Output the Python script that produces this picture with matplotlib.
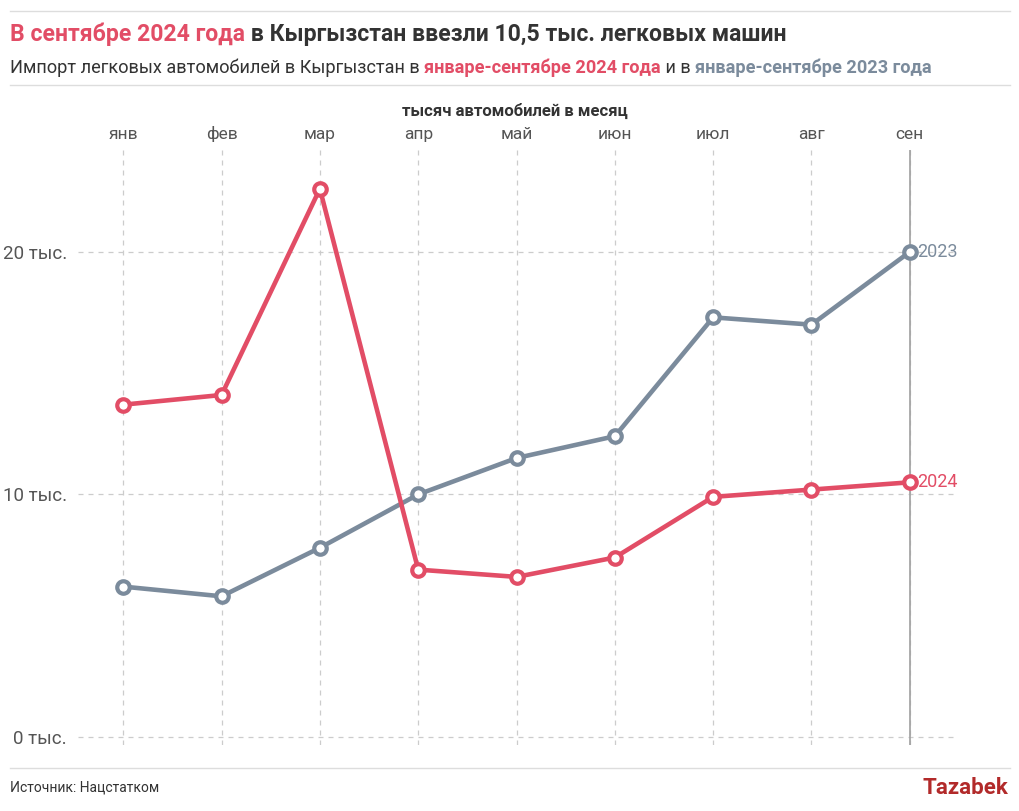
import matplotlib
matplotlib.use('Agg')
import matplotlib.pyplot as plt

plt.rcParams['font.family'] = ['Roboto', 'DejaVu Sans']

# ===== данные =====
months = ['янв', 'фев', 'мар', 'апр', 'май', 'июн', 'июл', 'авг', 'сен']
imports_2024 = [13.7, 14.1, 22.6, 6.9, 6.6, 7.4, 9.9, 10.2, 10.5]
imports_2023 = [6.2, 5.8, 7.8, 10.0, 11.5, 12.4, 17.3, 17.0, 20.0]
y_ticks = [0, 10, 20]
y_tick_labels = ['0 тыс.', '10 тыс.', '20 тыс.']

RED = '#e24d66'
GRAY = '#7b8b9c'
DARK = '#333333'

fig = plt.figure(figsize=(10.2, 8.11), dpi=100)
ax = fig.add_axes([78 / 1020, 1 - 745 / 811, (958 - 78) / 1020, (745 - 150) / 811])

x = list(range(len(months)))
ax.plot(x, imports_2023, color=GRAY, lw=3.3, marker='o', ms=9, mfc='white', mec=GRAY, mew=3, zorder=3)
ax.plot(x, imports_2024, color=RED, lw=3.3, marker='o', ms=9, mfc='white', mec=RED, mew=3, zorder=4)

ax.set_xlim(-0.46, 8.49)
ax.set_ylim(-0.33, 24.2)
ax.set_xticks(x)
ax.set_xticklabels(months)
ax.xaxis.tick_top()
ax.set_yticks(y_ticks)
ax.set_yticklabels(y_tick_labels)
ax.tick_params(length=0, labelsize=12.5, colors='#555555')
ax.tick_params(axis='y', labelsize=13.5, pad=8)
ax.tick_params(axis='x', pad=6)
ax.grid(True, color='#cccccc', ls=(0, (4, 4)), lw=0.9)
ax.set_axisbelow(True)
for s in ax.spines.values():
    s.set_visible(False)

# вертикальная линия на сентябре
ax.axvline(8, color='#a0a0a0', lw=1.2, zorder=2)

ax.text(8.07, imports_2023[-1], '2023', color=GRAY, fontsize=13, va='center', ha='left')
ax.text(8.07, imports_2024[-1], '2024', color=RED, fontsize=13, va='center', ha='left')

# ===== заголовки =====
renderer = fig.canvas.get_renderer()


def rich_text(x0, y0, parts, size):
    xp = x0
    for txt, col, w in parts:
        t = fig.text(xp, y0, txt, color=col, fontsize=size, fontweight=w, va='baseline', ha='left')
        bb = t.get_window_extent(renderer=renderer)
        xp += bb.width / fig.bbox.width


rich_text(10 / 1020, 1 - 41 / 811, [
    ('В сентябре 2024 года', RED, 'bold'),
    (' в Кыргызстан ввезли 10,5 тыс. легковых машин', DARK, 'bold'),
], 16.6)

rich_text(10 / 1020, 1 - 73 / 811, [
    ('Импорт легковых автомобилей в Кыргызстан в ', DARK, 'normal'),
    ('январе-сентябре 2024 года', RED, 'bold'),
    (' и в ', DARK, 'normal'),
    ('январе-сентябре 2023 года', GRAY, 'bold'),
], 13.1)

fig.text(515 / 1020, 1 - 111 / 811, 'тысяч автомобилей в месяц', fontsize=12, fontweight='bold',
         color=DARK, ha='center', va='center')

for yy in [11, 85, 768]:
    fig.add_artist(plt.Line2D([10 / 1020, 1010 / 1020], [1 - yy / 811, 1 - yy / 811],
                              color='#dddddd', lw=1))

fig.text(10 / 1020, 1 - 788 / 811, 'Источник: Нацстатком', fontsize=10, color=DARK, va='center')
fig.text(1008 / 1020, 1 - 788 / 811, 'Tazabek', fontsize=16, fontweight='bold', color='#b22a2a',
         ha='right', va='center')

fig.savefig('out.png', dpi=100)
